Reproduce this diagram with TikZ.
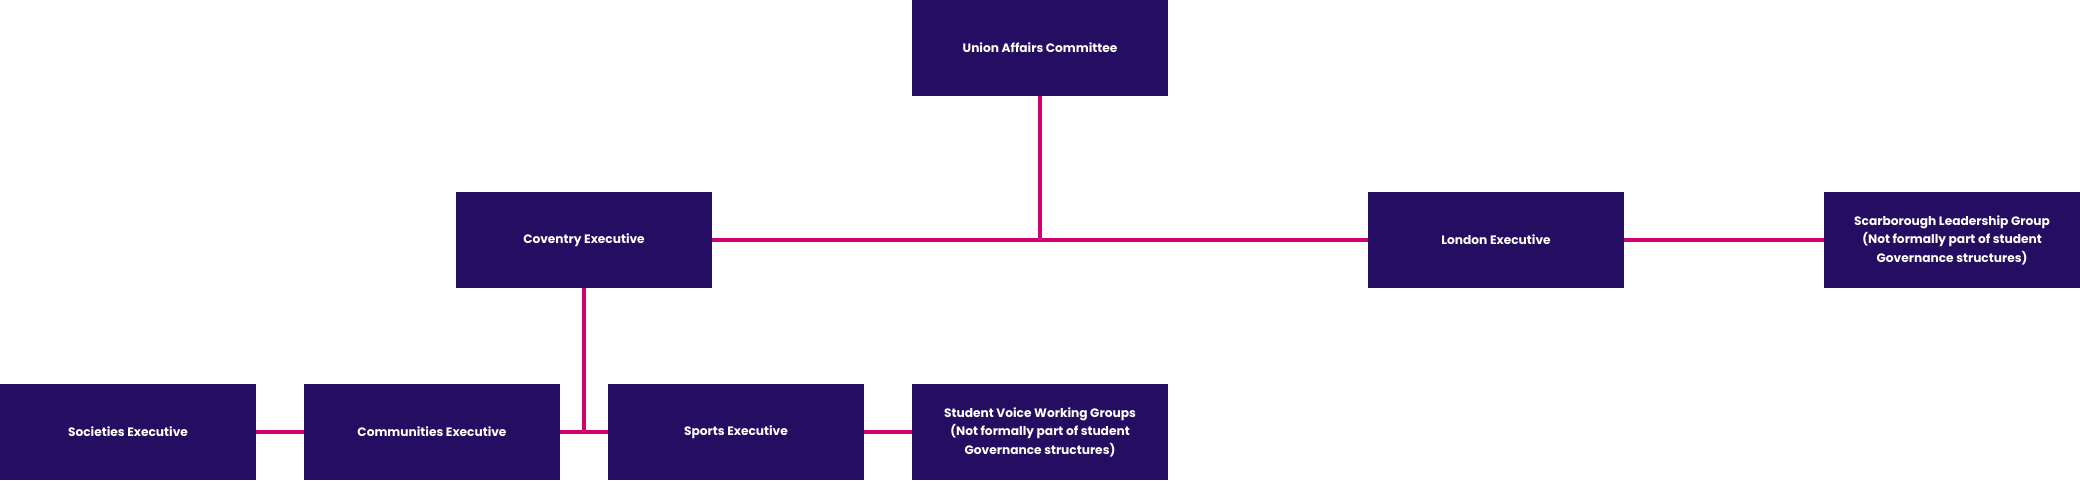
\documentclass[tikz,border=0pt]{standalone}
\usepackage{fontspec}
\setmainfont{Poppins}
\definecolor{boxpurple}{HTML}{250E62}
\definecolor{linkpink}{HTML}{D1006F}
\tikzset{
  orgbox/.style={fill=boxpurple, draw=none, minimum width=256pt, minimum height=96pt,
    inner sep=0pt, text=white, font=\fontsize{12.2}{18.4}\selectfont\bfseries, align=center},
  link/.style={draw=linkpink, line width=4pt}
}
\begin{document}
\begin{tikzpicture}[x=1pt,y=-1pt]
\useasboundingbox (0,0) rectangle (2080,480);
\node[orgbox] (uac) at (1040,48) {Union Affairs Committee};
\node[orgbox] (cov) at (584,240) {Coventry Executive};
\node[orgbox] (lon) at (1496,240) {London Executive};
\node[orgbox] (sca) at (1952,240) {Scarborough Leadership Group\\(Not formally part of student\\Governance structures)};
\node[orgbox] (soc) at (128,432) {Societies Executive};
\node[orgbox] (com) at (432,432) {Communities Executive};
\node[orgbox] (spo) at (736,432) {Sports Executive};
\node[orgbox] (svw) at (1040,432) {Student Voice Working Groups\\(Not formally part of student\\Governance structures)};
\coordinate (j1) at (1040,240);
\coordinate (j2) at (584,432);
\draw[link] (uac.south) -- (j1);
\draw[link] (cov.east) -- (lon.west);
\draw[link] (lon.east) -- (sca.west);
\draw[link] (cov.south) -- (j2);
\draw[link] (com.east) -- (spo.west);
\draw[link] (soc.east) -- (com.west);
\draw[link] (spo.east) -- (svw.west);
\end{tikzpicture}
\end{document}
